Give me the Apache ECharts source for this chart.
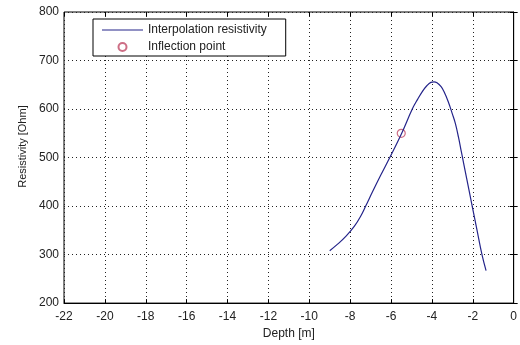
<!DOCTYPE html>
<html>
<head>
<meta charset="utf-8">
<script src="https://cdn.jsdelivr.net/npm/echarts@6/dist/echarts.min.js"></script>
<style>
  html, body { margin: 0; padding: 0; background: #fff; }
  #chart { width: 520px; height: 345px; }
</style>
</head>
<body>
<div id="chart"></div>
<script>
// values
const depth = [-9.0, -8.6, -8.2, -7.8, -7.5, -7.24, -6.9, -6.5, -6.06, -5.5, -4.96, -4.7, -4.47, -4.25, -4.05, -3.9, -3.75, -3.55, -3.41, -3.2, -3.0, -2.85, -2.7, -2.55, -2.3, -2.03, -1.8, -1.55, -1.35];
const resistivity = [308, 322, 338, 358, 378, 400, 430, 464, 500, 548, 600, 620, 636, 648, 655, 656, 654, 646, 636, 615, 590, 570, 542, 510, 457, 400, 352, 300, 267];
const inflectionDepth = [-5.5];
const inflectionRes = [550];

const font = 'Liberation Sans, Arial, sans-serif';
const textColor = '#222';
const gridDots = { type: [1, 3], color: '#222', width: 1 };

const chart = echarts.init(document.getElementById('chart'));

const mainX = {
  type: 'value', min: -22, max: 0, interval: 2,
  name: 'Depth [m]', nameLocation: 'middle', nameGap: 21,
  nameTextStyle: { fontFamily: font, fontSize: 12, color: textColor },
  axisLine: { lineStyle: { color: '#000' } },
  axisTick: { inside: true, length: 4, lineStyle: { color: '#000' } },
  axisLabel: { fontFamily: font, fontSize: 12, color: textColor, margin: 8 },
  splitLine: { show: true, lineStyle: gridDots }
};
const mainY = {
  type: 'value', min: 200, max: 800, interval: 100,
  name: 'Resistivity [Ohm]', nameLocation: 'middle', nameGap: 36,
  nameTextStyle: { fontFamily: 'Liberation Sans Narrow, ' + font, fontSize: 11, color: textColor, padding: [0, 0, 0, 22] },
  axisLine: { show: true, lineStyle: { color: '#000' } },
  axisTick: { show: true, inside: true, length: 4, lineStyle: { color: '#000' } },
  axisLabel: { fontFamily: font, fontSize: 12, color: textColor, margin: 5 },
  splitLine: { show: true, lineStyle: gridDots }
};

chart.setOption({
  animation: false,
  grid: { left: 64, right: 4, top: 12, bottom: 36, show: true, borderColor: '#000', borderWidth: 1 },
  legend: {
    left: 93, top: 19, orient: 'vertical',
    itemWidth: 41, itemHeight: 8, itemGap: 3,
    padding: [4, 19, 2, 9],
    backgroundColor: '#fff', borderColor: '#000', borderWidth: 1, borderRadius: 0,
    textStyle: { fontFamily: font, fontSize: 12, color: textColor, lineHeight: 14 },
    data: [
      { name: 'Interpolation resistivity', icon: 'path://M0,0H41V1H0Z' },
      'Inflection point'
    ]
  },
  xAxis: [
    mainX,
    { type: 'value', min: -22, max: 0, interval: 2, position: 'top',
      axisLine: { show: false }, axisLabel: { show: false }, splitLine: { show: false },
      axisTick: { inside: true, length: 4, lineStyle: { color: '#000' } } }
  ],
  yAxis: [
    mainY,
    { type: 'value', min: 200, max: 800, interval: 100, position: 'right',
      axisLine: { show: false }, axisLabel: { show: false }, splitLine: { show: false },
      axisTick: { show: true, inside: true, length: 4, lineStyle: { color: '#000' } } }
  ],
  series: [
    {
      name: 'Interpolation resistivity',
      type: 'line',
      smooth: 0.4,
      symbol: 'none',
      data: depth.map((d, i) => [d, resistivity[i]]),
      lineStyle: { color: '#24248a', width: 1.2 },
      itemStyle: { color: '#24248a' }
    },
    {
      name: 'Inflection point',
      type: 'scatter',
      symbol: 'circle',
      symbolSize: 8,
      data: inflectionDepth.map((d, i) => [d, inflectionRes[i]]),
      itemStyle: { color: 'rgba(0,0,0,0)', borderColor: '#c04a66', borderWidth: 1.2 }
    }
  ]
});
</script>
</body>
</html>
